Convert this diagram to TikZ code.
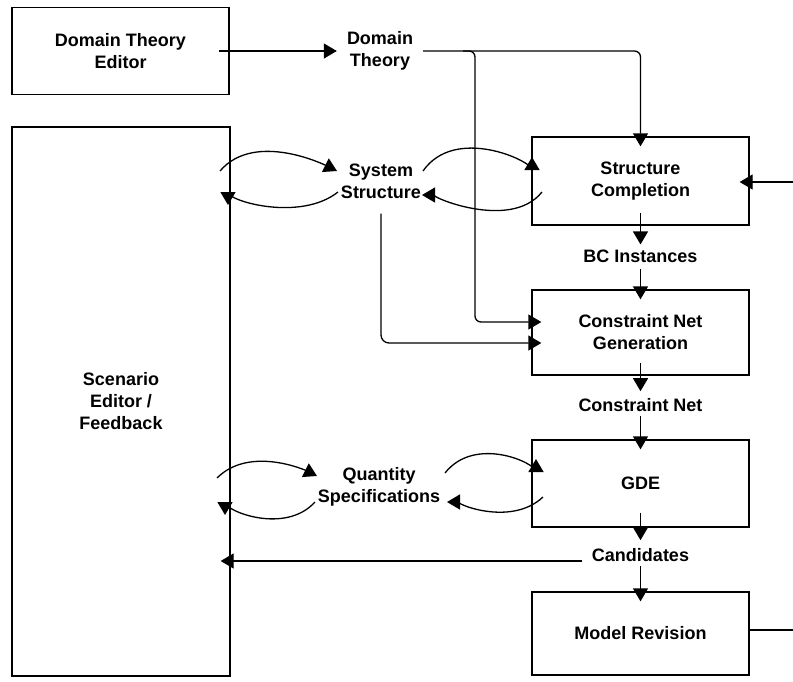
\documentclass[tikz,border=0pt]{standalone}
\usepackage{fontspec}
\setmainfont{Liberation Sans}
\usetikzlibrary{arrows.meta,calc}
\begin{document}
\begin{tikzpicture}[x=1pt,y=-1pt,
  every node/.style={font=\bfseries\fontsize{18}{22}\selectfont, align=center, inner sep=0pt},
  box/.style={draw, line width=1.3pt, minimum width=217pt},
  conn/.style={line width=1.3pt},
  arr/.style={conn, -{Triangle[length=13pt,width=15pt]}},
  arrin/.style={arr, shorten >=-10pt},
  rc/.style={rounded corners=6pt}]
\useasboundingbox (0,0) rectangle (793,681);

% boxes
\node[box, minimum height=87pt] (dte) at (120.5,51) {Domain Theory\\Editor};
\node[box, minimum width=218pt, minimum height=549pt] (sed) at (121,401.5) {Scenario\\Editor /\\Feedback};
\node[box, minimum height=88pt] (sc)  at (640.5,181) {Structure\\Completion};
\node[box, minimum height=85pt] (cng) at (640.5,332.5) {Constraint Net\\Generation};
\node[box, minimum height=87pt] (gde) at (640.5,483.5) {GDE};
\node[box, minimum height=83pt] (mr)  at (640.5,633.5) {Model Revision};

% data labels
\node (dt)   at (380,51)    {Domain\\Theory};
\node (ss)   at (381,181)   {System\\Structure};
\node (qs)   at (379,487)   {Quantity\\Specifications};
\node (bci)  at (640.5,256) {BC Instances};
\node (cn)   at (640.5,405) {Constraint Net};
\node (cand) at (640.5,555) {Candidates};

% domain theory flows
\draw[arr] ($(dte.east)+(-11,0)$) -- ($(dt.west)+(-10,0)$);
\draw[arrin, rc] ($(dt.east)+(10,0)$) -| (sc.north);
\draw[arrin, rc] ($(dt.east)+(50,0)$) -- (475,51) -- (475,322) -- ($(cng.west)+(0,-10.5)$);
\draw[arrin, rounded corners=8pt] ($(ss.south)+(0,15)$) |- ($(cng.west)+(0,10.5)$);

% main column
\draw[arr]   ($(sc.south)+(0,-13)$)  -- ($(bci.north)+(0,-5)$);
\draw[arrin] ($(bci.south)+(0,6)$)   -- (cng.north);
\draw[arr]   ($(cng.south)+(0,-13)$) -- ($(cn.north)+(0,-7)$);
\draw[arrin] ($(cn.south)+(0,4)$)    -- (gde.north);
\draw[arr]   ($(gde.south)+(0,-15)$) -- ($(cand.north)+(0,-8)$);
\draw[arrin] ($(cand.south)+(0,4)$)  -- (mr.north);

% candidates back to scenario editor
\coordinate (cl) at ($(cand.west)+(-10,6)$);
\draw[arrin] (cl) -- (cl -| sed.east);

% feedback from model revision
\coordinate (eR1) at (793,182);
\coordinate (eR2) at (793,630);
\draw[conn] (mr.east |- eR2) -- (eR2);
\draw[arrin] (eR1) -- (eR1 -| sc.east);

% system structure exchange
\draw[arr] (220,171) .. controls (255,130) and (327,166) .. (337,171);
\draw[arr] (338,192) .. controls (300,222) and (228,201) .. (228,205);
\draw[arr] (423,171) .. controls (455,125) and (532,161) .. (532,157);
\draw[arr] (542,192) .. controls (510,232) and (426,195) .. (422,195);

% quantity specifications exchange
\draw[arr] (217,478) .. controls (250,445) and (307,471) .. (317,476);
\draw[arr] (315,502) .. controls (285,535) and (225,511) .. (225,515);
\draw[arr] (445,473) .. controls (475,435) and (536,463) .. (536,459);
\draw[arr] (543,497) .. controls (510,528) and (451,502) .. (447,502);
\end{tikzpicture}
\end{document}
